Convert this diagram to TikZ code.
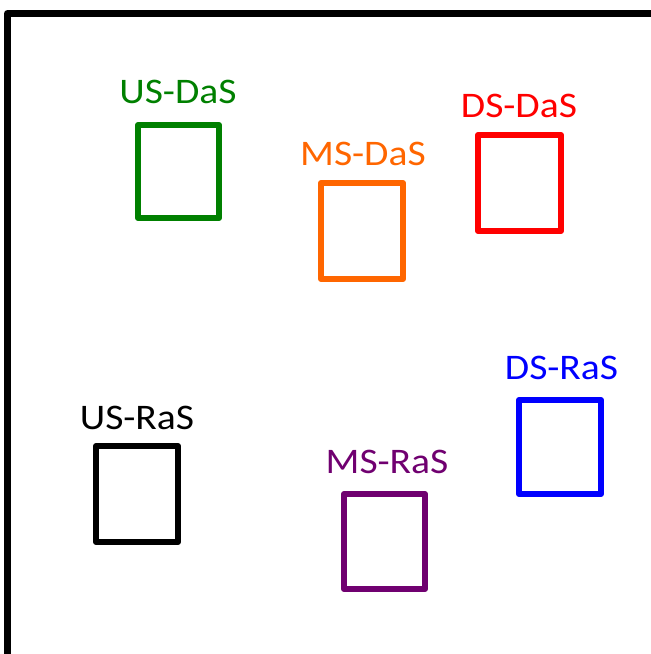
\documentclass[tikz,border=0pt]{standalone}
\usepackage{fontspec}
\setmainfont{Carlito}
\newfontfamily\labfont[FakeStretch=1.1]{Carlito}
\definecolor{cgreen}{RGB}{0,128,0}
\definecolor{corange}{RGB}{255,102,0}
\definecolor{cred}{RGB}{255,0,0}
\definecolor{cblue}{RGB}{0,0,255}
\definecolor{cpurple}{RGB}{112,0,112}
\begin{document}
\begin{tikzpicture}[x=1pt,y=-1pt,
  boxst/.style={line width=6pt, line join=round, draw=#1},
  lab/.style={anchor=base, text=#1, font=\labfont\fontsize{36}{40}\selectfont, inner sep=0pt}]
\useasboundingbox (0,0) rectangle (651,654);
\draw[line width=7pt, line join=round] (7.5,700) -- (7.5,13.5) -- (700,13.5);
% boxes
\draw[boxst=cgreen] (138,125) rectangle (219,218);
\coordinate (bg) at (178.5,125);
\draw[boxst=corange] (321,183) rectangle (403,279);
\coordinate (bo) at (362,183);
\draw[boxst=cred] (478,135) rectangle (561,231);
\coordinate (br) at (519.5,135);
\draw[boxst=black] (96,446) rectangle (178,542);
\coordinate (bk) at (137,446);
\draw[boxst=cpurple] (344,494) rectangle (425,589);
\coordinate (bp) at (384.5,494);
\draw[boxst=cblue] (519,400) rectangle (601,494);
\coordinate (bb) at (560,400);
% labels
\node[lab=cgreen] (lg) at (178,103) {US-DaS};
\node[lab=corange] (lo) at (363,165) {MS-DaS};
\node[lab=cred] (lr) at (519,117.5) {DS-DaS};
\node[lab=black] (lk) at (137,429) {US-RaS};
\node[lab=cpurple] (lp) at (387,473) {MS-RaS};
\node[lab=cblue] (lb) at (561.5,379) {DS-RaS};
\end{tikzpicture}
\end{document}
